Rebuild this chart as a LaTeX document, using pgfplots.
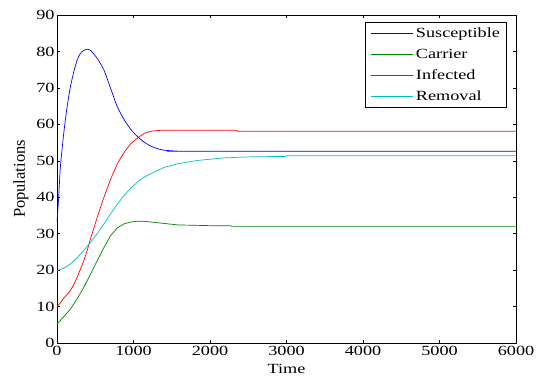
\documentclass[border=0pt]{standalone}
\usepackage{graphicx}
\usepackage{pgfplots}
\pgfplotsset{compat=1.18}
\usepackage{fontspec}
\setmainfont{Liberation Serif}
\definecolor{mblue}{rgb}{0,0,1}
\definecolor{mgreen}{rgb}{0,0.5,0}
\definecolor{mred}{rgb}{1,0,0}
\definecolor{mcyan}{rgb}{0,0.75,0.75}
\newcommand{\hs}[1]{\scalebox{1.3}[1]{#1}}
\begin{document}
\begin{tikzpicture}[x=1pt,y=1pt]
\useasboundingbox (-57,-38) rectangle (482,343);
\begin{axis}[
  at={(0,0)}, anchor=south west,
  scale only axis, width=459pt, height=328pt,
  xmin=0, xmax=6000, ymin=0, ymax=90,
  xtick={0,1000,...,6000}, ytick={0,10,...,90},
  xticklabels={\hs{0},\hs{1000},\hs{2000},\hs{3000},\hs{4000},\hs{5000},\hs{6000}},
  yticklabels={\hs{0},\hs{10},\hs{20},\hs{30},\hs{40},\hs{50},\hs{60},\hs{70},\hs{80},\hs{90}},
  tick align=inside, tick pos=both,
  major tick length=3pt,
  tick style={black, line width=0.5pt},
  axis line style={black, line width=0.8pt},
  ticklabel style={font=\fontsize{14}{16}\selectfont},
  yticklabel style={xshift=1pt},
  xlabel={\hs{Time}}, ylabel={Populations},
  xlabel style={font=\fontsize{14}{16}\selectfont, yshift=-1pt},
  ylabel style={font=\fontsize{16.5}{18}\selectfont, yshift=1pt},
  legend style={at={(0.981,0.978)}, anchor=north east, draw=black, line width=0.8pt,
    font=\fontsize{14}{16}\selectfont, row sep=6pt, inner xsep=5pt, inner ysep=3pt,
    /tikz/every even column/.append style={column sep=3pt}},
  legend cell align=left,
  legend image code/.code={\draw[#1, line width=1.3pt] (0pt,0pt) -- (42pt,0pt);},
]
\addplot[mblue, line width=0.7pt, smooth, tension=0.4] coordinates {(0,33.2)(22,40)(44,48.3)(88,57.5)(132,64.8)(175,70.3)(219,74.4)(263,77.6)(307,79.5)(351,80.3)(395,80.6)(438,80.3)(526,78.1)(614,74.9)(702,69.8)(789,64.8)(877,61.3)(965,58.6)(1053,56.6)(1140,55.1)(1228,54.0)(1316,53.3)(1404,52.9)(1535,52.7)(1700,52.6)(6000,52.6)};
\addlegendentry{\hs{Susceptible}}
\addplot[mgreen, line width=0.7pt] coordinates {(0,5.2)(88,7.2)(175,9.3)(263,12.1)(351,15.3)(438,18.9)(526,22.6)(614,26.2)(702,29.5)(789,31.6)(877,32.7)(965,33.2)(1053,33.4)(1140,33.4)(1228,33.2)(1404,32.8)(1580,32.4)(2000,32.2)(2270,32.2)(2280,32.0)(6000,32.0)};
\addlegendentry{\hs{Carrier}}
\addplot[mred, line width=0.7pt] coordinates {(0,10)(44,11)(88,12.3)(132,13.3)(175,14.4)(219,16)(263,18)(307,20.3)(351,22.6)(395,25.4)(438,28.6)(526,34.5)(614,40)(702,45)(789,49.2)(877,52.3)(965,54.7)(1053,56.3)(1140,57.5)(1228,58.1)(1316,58.3)(1404,58.4)(2350,58.4)(2360,58.1)(6000,58.1)};
\addlegendentry{\hs{Infected}}
\addplot[mcyan, line width=0.7pt] coordinates {(0,19.9)(88,20.5)(175,21.7)(263,23.4)(351,25.4)(438,27.6)(526,30)(614,32.7)(702,35.5)(789,38.1)(877,40.5)(965,42.5)(1053,44.2)(1140,45.5)(1228,46.5)(1404,48.2)(1580,49.2)(1840,50.1)(2190,50.8)(2540,51.1)(2980,51.2)(3000,51.4)(6000,51.4)};
\addlegendentry{\hs{Removal}}
\end{axis}
\end{tikzpicture}
\end{document}
